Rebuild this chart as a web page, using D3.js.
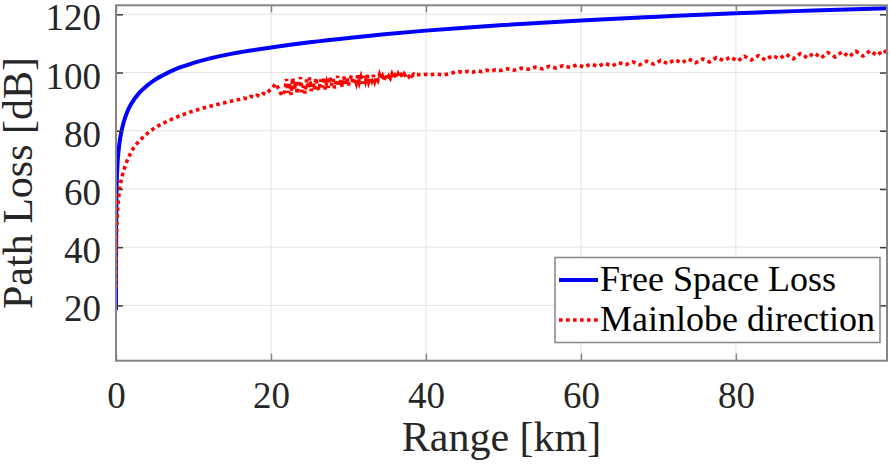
<!DOCTYPE html>
<html>
<head>
<meta charset="utf-8">
<script src="https://cdn.jsdelivr.net/npm/d3@7"></script>
<style>
  html, body { margin: 0; padding: 0; background: #fff; }
  svg { display: block; }
  svg text { font-family: "Liberation Serif", "DejaVu Serif", serif !important; }
</style>
</head>
<body>
<svg id="chart" width="890" height="469"></svg>
<script>
// ---- data ----
const xTicks = [0, 20, 40, 60, 80];
const yTicks = [20, 40, 60, 80, 100, 120];
const seriesNames = ["Free Space Loss", "Mainlobe direction"];

const fslRange = [0.00066, 0.001, 0.002, 0.005, 0.01, 0.02, 0.05, 0.1, 0.2, 0.3, 0.5, 0.75, 1, 1.5, 2, 3, 4, 5, 6, 8, 10, 12, 15, 20, 25, 30, 35, 40, 45, 50, 60, 70, 80, 90, 99.5];
const fslLoss  = [18.4, 22.5, 28.5, 36.5, 42.5, 48.5, 56.5, 62.5, 68.8, 72.3, 76.8, 80.3, 83, 86.8, 89.4, 93, 95.5, 97.5, 99, 101.5, 103.3, 104.8, 106.5, 108.6, 110.4, 111.9, 113.2, 114.4, 115.4, 116.3, 117.9, 119.2, 120.4, 121.3, 122.1];

const mainRange = [
  0.0095, 0.012, 0.015, 0.02, 0.03, 0.05, 0.07, 0.1, 0.15, 0.2, 0.3, 0.4, 0.5, 0.7, 1, 1.4, 2, 2.5, 3, 3.5, 4, 5, 6, 7, 8, 9, 10, 11, 12, 13, 14, 15, 16,
  16.5, 17, 17.4, 17.8, 18.2, 18.6, 19, 19.4, 19.8, 20.2, 20.6, 21.0, 21.4, 21.8,
  22.0, 22.2, 22.4, 22.6, 22.8, 23.0, 23.2, 23.4, 23.6, 23.8, 24.0, 24.2, 24.4, 24.6, 24.8, 25.0, 25.2, 25.4, 25.6, 25.8,
  26.0, 26.2, 26.4, 26.6, 26.8, 27.0, 27.2, 27.4, 27.6, 27.8, 28.0, 28.2, 28.4, 28.6, 28.8, 29.0, 29.2, 29.4, 29.6, 29.8,
  30.0, 30.2, 30.4, 30.6, 30.8, 31.0, 31.2, 31.4, 31.6, 31.8, 32.0, 32.2, 32.4, 32.6, 32.8, 33.0, 33.2, 33.4, 33.6, 33.8,
  34.0, 34.2, 34.4, 34.6, 34.8, 35.0, 35.2, 35.4, 35.6, 35.8, 36.0, 36.2, 36.4, 36.6, 36.8, 37.0, 37.2, 37.4, 37.6, 37.8,
  38.0, 38.2, 38.4, 38.6, 38.8,
  39.4, 40.0, 40.6, 41.2, 41.8, 42.4, 43.0, 43.6, 44.2, 44.8, 45.4, 46.0, 46.6, 47.2, 47.8, 48.4, 49.0, 49.6,
  50.5, 51.4, 52.3, 53.2, 54.1, 55.0, 55.9, 56.8, 57.7, 58.6, 59.5, 60.4, 61.3, 62.2, 63.1, 64.0, 64.9, 65.8, 66.7, 67.6,
  68.5, 69.4, 70.3, 71.2, 72.1, 73.0, 73.9, 74.8, 75.7, 76.6, 77.5, 78.4, 79.3, 80.2, 81.1, 82.0, 82.9, 83.8, 84.7, 85.6,
  86.5, 87.4, 88.3, 89.2, 90.1, 91.0, 91.9, 92.8, 93.7, 94.6, 95.5, 96.4, 97.3, 98.2, 99.1, 99.5
];
const mainLoss = [
  26, 28, 30, 32.5, 36, 40.5, 43.5, 46.5, 50, 52.5, 56, 58.5, 60.5, 63.5, 66.5, 69.5, 73.0, 75.0, 76.5, 77.8, 79.0, 81.0, 82.5, 83.7, 84.9, 85.9, 86.8, 87.6, 88.3, 89.0, 89.6, 90.2, 90.8,
  91.2, 91.0, 91.8, 91.5, 92.2, 91.9, 92.8, 92.6, 93.8, 94.8, 96.2, 94.4, 92.0, 93.6,
  97.8, 93.0, 96.5, 92.3, 98.2, 94.0, 97.0, 92.6, 96.0, 98.4, 93.2, 95.4, 92.8, 97.6, 94.4, 98.3, 93.6, 96.8, 94.0, 98.2,
  95.2, 93.8, 97.6, 95.0, 98.4, 94.2, 96.6, 94.8, 98.6, 95.6, 97.8, 94.6, 97.0, 98.8, 95.4, 97.4, 95.0, 98.6, 96.2, 98.2,
  95.6, 97.8, 99.0, 96.0, 98.0, 96.4, 99.0, 96.6, 98.4, 96.2, 98.8, 97.0, 99.2, 96.8, 98.4, 97.2, 99.2, 97.0, 98.6, 97.4,
  99.2, 97.6, 98.8, 97.4, 99.4, 97.8, 98.8, 98.0, 99.4, 97.9, 99.0, 98.2, 99.5, 98.3, 99.2, 98.4, 99.5, 98.6, 99.3, 98.6,
  99.5, 98.8, 99.4, 98.9, 99.3,
  99.2, 99.4, 99.2, 99.5, 99.3, 99.2, 99.6, 100.0, 100.3, 100.0, 100.4, 100.1, 100.6, 100.3, 100.8, 100.5, 101.0, 100.7,
  101.3, 100.8, 101.5, 101.15, 101.85, 101.25, 102.15, 101.55, 102.4, 101.7, 102.65, 101.9, 102.9, 102.15, 103.15, 102.3, 103.4, 102.7, 103.65, 102.65,
  103.9, 102.9, 104.15, 103.05, 104.4, 103.35, 104.65, 103.35, 104.65, 103.65, 105.15, 104.1, 105.3, 103.95, 105.6, 104.3, 105.8, 104.3, 105.8, 104.8,
  106.25, 104.7, 106.5, 105.1, 106.7, 105.05, 106.85, 105.35, 107.1, 105.45, 107.3, 105.65, 107.5, 105.9, 107.7, 106.45
];

// ---- layout ----
const svg = d3.select("#chart");
const L = 116, R = 887, T = 5.3, B = 360.7;
const x = d3.scaleLinear().domain([0, 99.5]).range([L, R]);
const y = d3.scaleLinear().domain([1, 123.1]).range([B, T]);

const axisGray = "#858585";
const tickDark = "#3a3a3a";
const textCol = "#262626";
const serif = '"Liberation Serif", "DejaVu Serif", serif';

// grid
const g = svg.append("g");
g.selectAll("line.gx").data(xTicks.filter(d => d > 0)).join("line")
  .attr("x1", d => x(d)).attr("x2", d => x(d)).attr("y1", T).attr("y2", B)
  .attr("stroke", "#e3e3e3").attr("stroke-width", 1);
g.selectAll("line.gy").data(yTicks).join("line")
  .attr("x1", L).attr("x2", R).attr("y1", d => y(d)).attr("y2", d => y(d))
  .attr("stroke", "#e3e3e3").attr("stroke-width", 1);

// clip
svg.append("clipPath").attr("id", "clip").append("rect")
  .attr("x", L).attr("y", T).attr("width", R - L).attr("height", B - T);

const fslData = fslRange.map((d, i) => [d, fslLoss[i]]);
const mainData = mainRange.map((d, i) => [d, mainLoss[i]]);

const plot = svg.append("g").attr("clip-path", "url(#clip)");
plot.append("path").datum(fslData)
  .attr("d", d3.line().x(d => x(d[0])).y(d => y(d[1])).curve(d3.curveMonotoneX))
  .attr("fill", "none").attr("stroke", "#0000ff").attr("stroke-width", 4);
plot.append("path").datum(mainData)
  .attr("d", d3.line().x(d => x(d[0])).y(d => y(d[1])))
  .attr("fill", "none").attr("stroke", "#ff0000").attr("stroke-width", 3.6)
  .attr("stroke-dasharray", "3.6,3.4");

// axes (box)
const xAxisB = d3.axisBottom(x).tickValues(xTicks).tickSize(-7).tickPadding(18).tickFormat(d3.format("d"));
const yAxisL = d3.axisLeft(y).tickValues(yTicks).tickSize(-7).tickPadding(14).tickFormat(d3.format("d"));
const xAxisT = d3.axisTop(x).tickValues(xTicks).tickSize(-7).tickFormat("");
const yAxisR = d3.axisRight(y).tickValues(yTicks).tickSize(-7).tickFormat("");

function styleAxis(sel, tickCol) {
  sel.attr("font-family", serif);
  sel.selectAll(".tick line").attr("stroke", tickCol).attr("stroke-width", 1.5);
  sel.selectAll(".tick text").attr("fill", textCol)
    .attr("font-family", serif)
    .style("font-size", "37px");
}
const gxb = svg.append("g").attr("transform", `translate(0,${B})`).call(xAxisB);
styleAxis(gxb, axisGray);
gxb.selectAll(".tick text").attr("dy", null).attr("y", 47);
const gyl = svg.append("g").attr("transform", `translate(${L},0)`).call(yAxisL);
styleAxis(gyl, tickDark);
gyl.selectAll(".tick text").attr("dy", "0.42em").attr("x", -15);
const gxt = svg.append("g").attr("transform", `translate(0,${T})`).call(xAxisT);
styleAxis(gxt, axisGray);
const gyr = svg.append("g").attr("transform", `translate(${R},0)`).call(yAxisR);
styleAxis(gyr, tickDark);
[gxb, gyl, gxt, gyr].forEach(a => a.select(".domain").remove());
// box outline
svg.append("rect").attr("x", L).attr("y", T).attr("width", R - L).attr("height", B - T)
  .attr("fill", "none").attr("stroke", axisGray).attr("stroke-width", 2);

// axis labels
svg.append("text").attr("x", (L + R) / 2).attr("y", 451).attr("text-anchor", "middle")
  .attr("font-family", serif).attr("fill", textCol).style("font-size", "42px").text("Range [km]");
svg.append("text").attr("transform", `translate(32,${(T + B) / 2}) rotate(-90)`)
  .attr("font-family", serif).attr("text-anchor", "middle").attr("fill", textCol)
  .style("font-size", "42px").text("Path Loss [dB]");

// legend
const lg = svg.append("g");
lg.append("rect").attr("x", 555).attr("y", 257.5).attr("width", 325).attr("height", 85)
  .attr("fill", "#fff").attr("stroke", axisGray).attr("stroke-width", 1.5);
const legendRows = [
  { name: seriesNames[0], color: "#0000ff", dash: null, w: 4, y: 280 },
  { name: seriesNames[1], color: "#ff0000", dash: "3.6,3.4", w: 3.6, y: 320 }
];
legendRows.forEach(r => {
  lg.append("line").attr("x1", 559).attr("x2", 598).attr("y1", r.y).attr("y2", r.y)
    .attr("stroke", r.color).attr("stroke-width", r.w).attr("stroke-dasharray", r.dash);
  lg.append("text").attr("x", 600).attr("y", r.y + 11).attr("fill", "#000")
    .attr("font-family", serif).style("font-size", "36px").text(r.name);
});
</script>
</body>
</html>
